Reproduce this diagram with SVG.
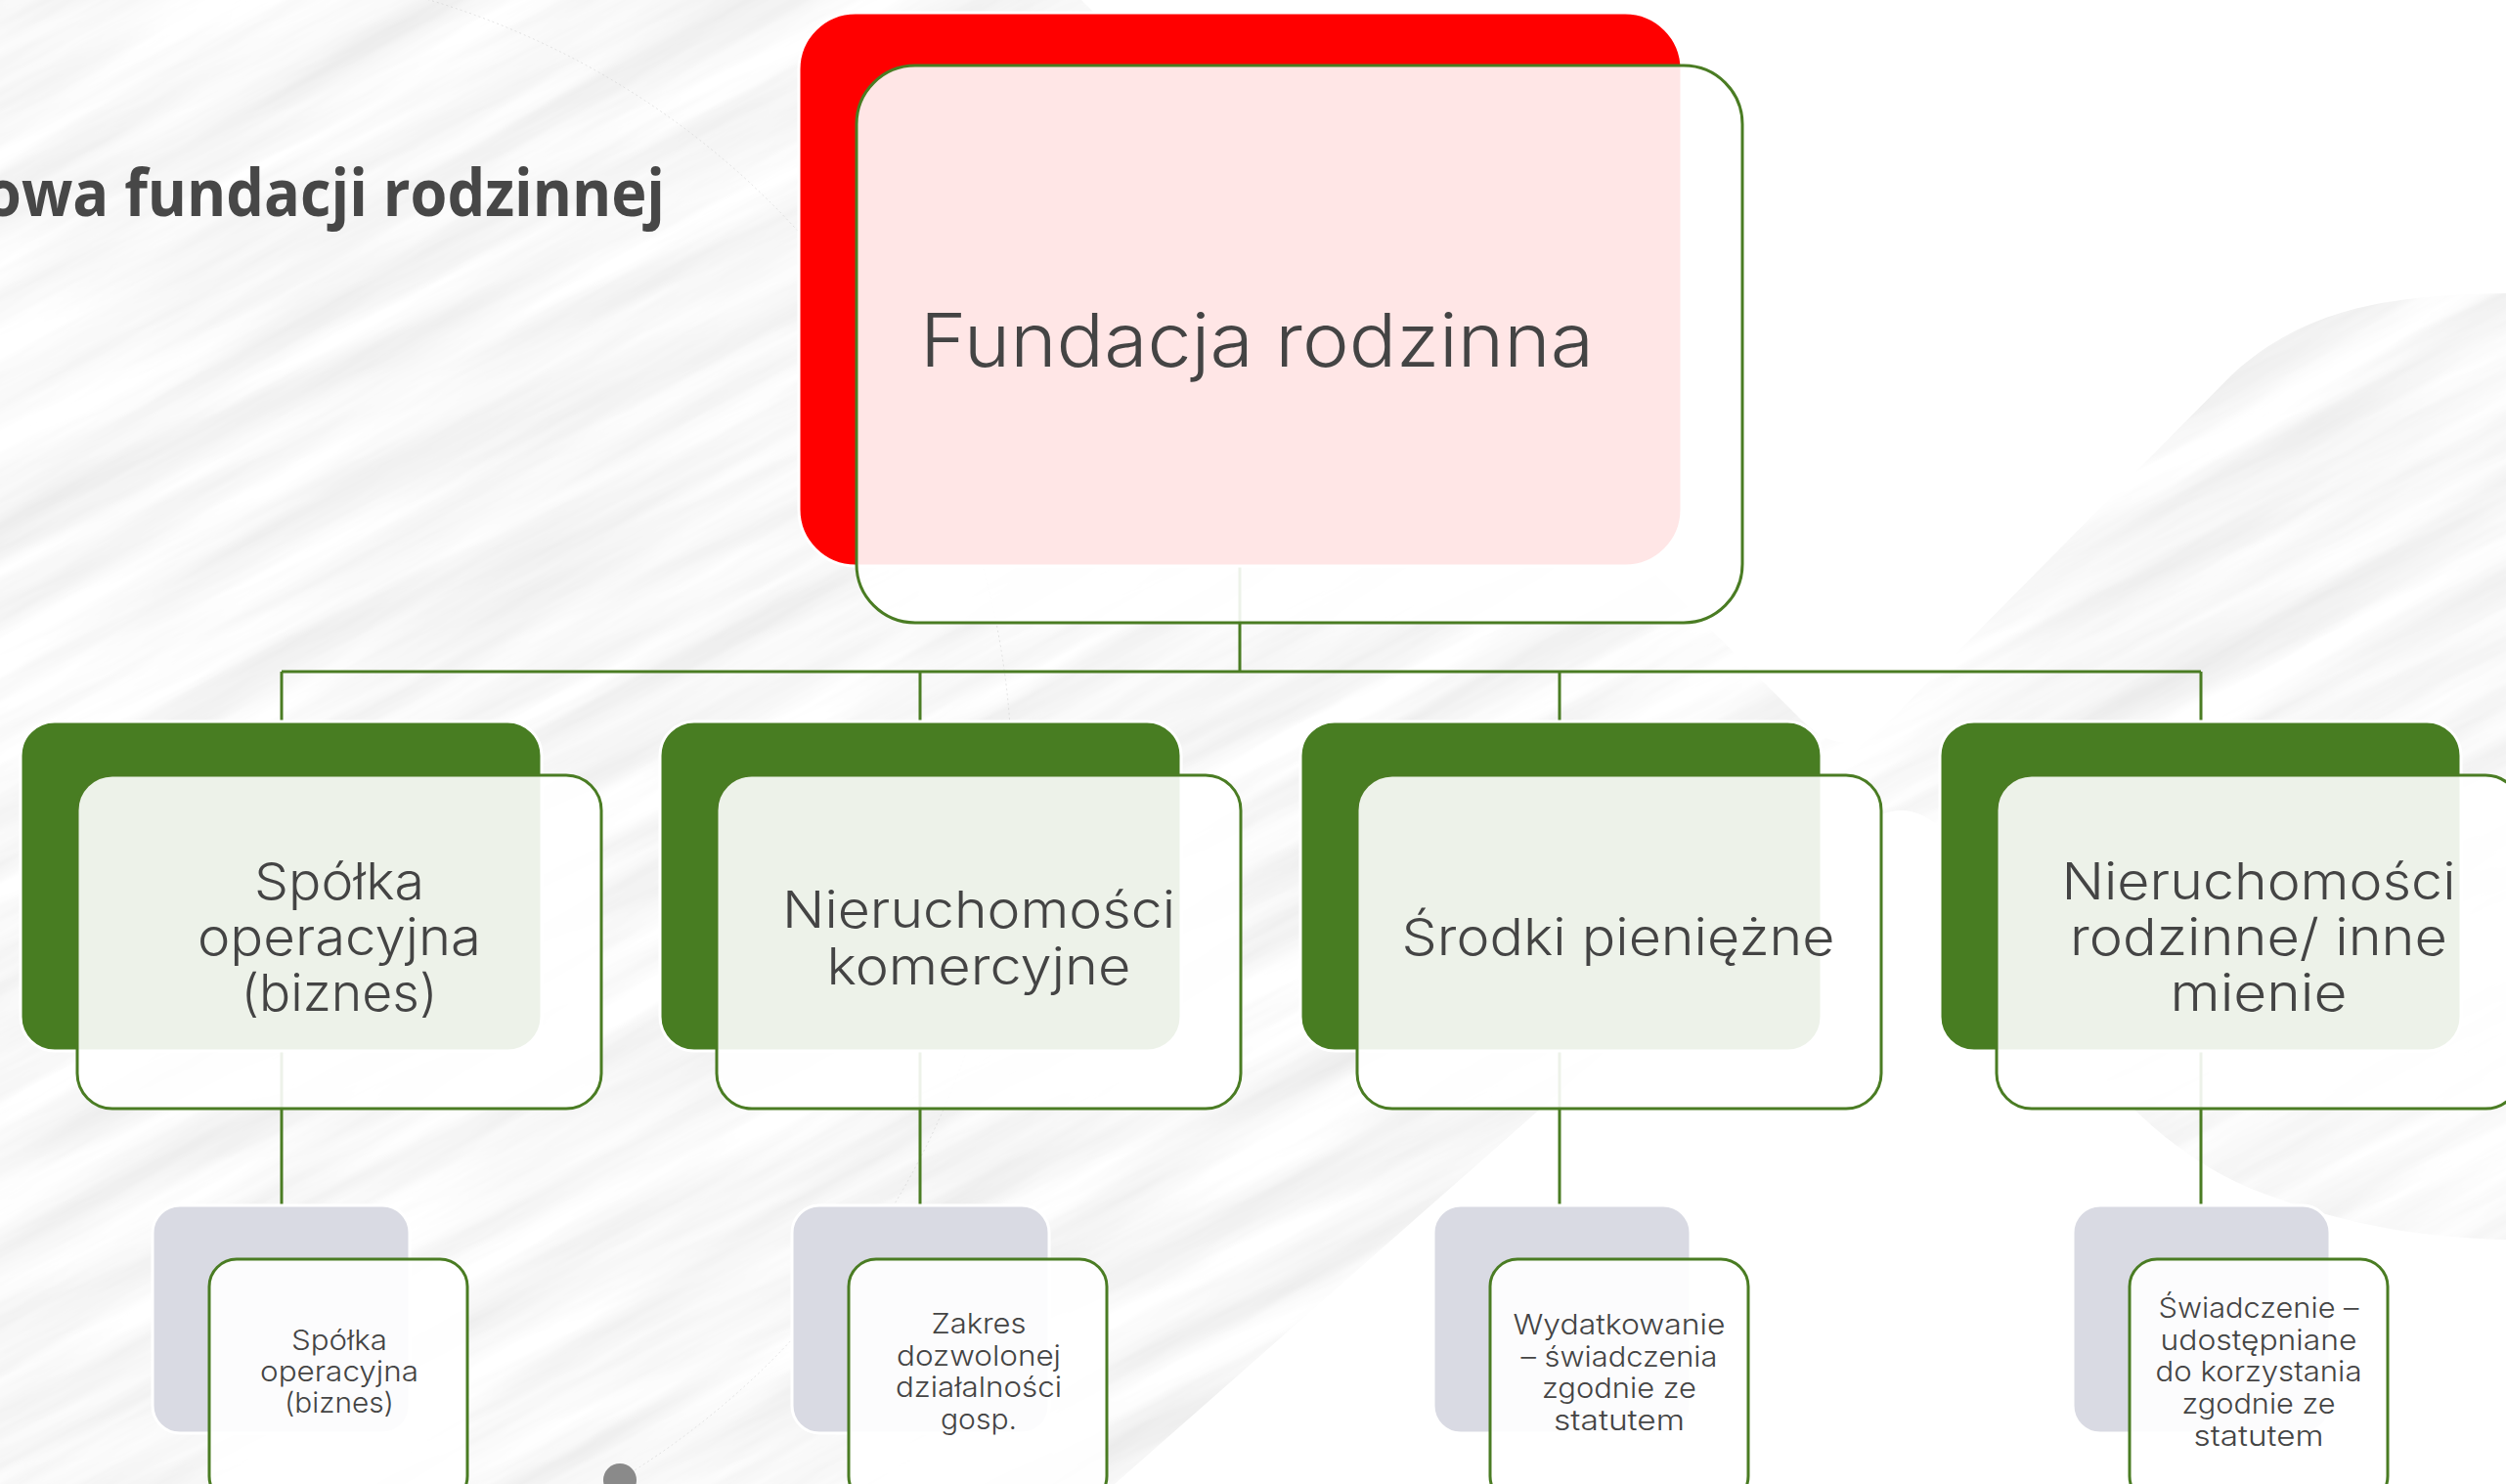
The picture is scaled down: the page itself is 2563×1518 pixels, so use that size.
<svg xmlns="http://www.w3.org/2000/svg" width="2563" height="1518" viewBox="0 0 2563 1518">
<defs>
<filter id="wood" x="-0.2" y="-0.2" width="1.4" height="1.4" filterUnits="objectBoundingBox">
<feTurbulence type="fractalNoise" baseFrequency="0.002 0.025" numOctaves="5" seed="7"/>
<feColorMatrix type="matrix" values="0.28 0 0 0 0.8  0.28 0 0 0 0.8  0.28 0 0 0 0.8  0 0 0 0 1"/>
</filter>
<style>
.lbl{font-family:Inter,"Open Sans","Liberation Sans",sans-serif;font-weight:300;fill:#444;text-anchor:middle}
.big{font-size:52px}
.sm{font-size:29px}
.conn{stroke:#4a7c23;stroke-width:3;fill:none}
.gback{fill:#487d22;stroke:#fff;stroke-width:3}
.gfront{fill:#fff;fill-opacity:.9;stroke:#4a7c23;stroke-width:3}
.sback{fill:#d9dae3;stroke:#fff;stroke-width:3}
.sfront{fill:#fff;fill-opacity:.9;stroke:#4a7c23;stroke-width:3}
</style>
</defs>
<g id="background">
<rect width="2563" height="1518" fill="#ececec"/>
<g transform="rotate(-28 1280 760)">
<rect x="-900" y="-900" width="4400" height="3300" filter="url(#wood)"/>
</g>
<path d="M1106,0 L1843,737 Q1888,782 1933,737 L2282,384 C2360,312 2450,302 2563,300 L2563,0 Z" fill="#fff"/>
<path d="M1140,1518 L1900,848 Q1948,808 1990,852 C2070,990 2150,1150 2300,1215 C2400,1255 2480,1266 2563,1268 L2563,1518 Z" fill="#fff"/>
<circle cx="200" cy="800" r="835" fill="none" stroke="#c4c4c4" stroke-width="1" stroke-dasharray="2 3" opacity="0.45"/>
<circle cx="634" cy="1514" r="17" fill="#8a8a8a"/>
<text x="-16" y="221" font-family="'Open Sans','Liberation Sans',sans-serif" font-weight="700" font-size="66" fill="#474747" textLength="696" lengthAdjust="spacingAndGlyphs">owa fundacji rodzinnej</text>
</g>
<g id="connectors">
<path class="conn" d="M1268,579 V687 M288,687 H2251 M288,687 V738 M941,687 V738 M1595,687 V738 M2251,687 V738 M288,1075 V1233 M941,1075 V1233 M1595,1075 V1233 M2251,1075 V1233"/>
</g>
<g id="node-fundacja">
<rect x="817" y="13" width="903" height="566" rx="58" fill="#ff0000" stroke="#fff" stroke-width="3"/>
<rect x="876" y="67" width="906" height="570" rx="60" class="gfront"/>
<text class="lbl" x="1285.5" y="375" font-size="76" textLength="689" lengthAdjust="spacingAndGlyphs">Fundacja rodzinna</text>
</g>
<g id="node-spolka">
<rect class="gback" x="21" y="738" width="533" height="337" rx="35"/>
<rect class="gfront" x="79" y="793" width="536" height="341" rx="36"/>
<text class="lbl big"><tspan x="347" y="920" textLength="174" lengthAdjust="spacingAndGlyphs">Spółka</tspan><tspan x="347" y="977" textLength="290" lengthAdjust="spacingAndGlyphs">operacyjna</tspan><tspan x="347" y="1034" textLength="201" lengthAdjust="spacingAndGlyphs">(biznes)</tspan></text>
</g>
<g id="node-nieruchomosci-kom">
<rect class="gback" x="675" y="738" width="533" height="337" rx="35"/>
<rect class="gfront" x="733" y="793" width="536" height="341" rx="36"/>
<text class="lbl big"><tspan x="1001" y="949" textLength="402" lengthAdjust="spacingAndGlyphs">Nieruchomości</tspan><tspan x="1001" y="1007" textLength="311" lengthAdjust="spacingAndGlyphs">komercyjne</tspan></text>
</g>
<g id="node-srodki">
<rect class="gback" x="1330" y="738" width="533" height="337" rx="35"/>
<rect class="gfront" x="1388" y="793" width="536" height="341" rx="36"/>
<text class="lbl big"><tspan x="1655" y="977" textLength="443" lengthAdjust="spacingAndGlyphs">Środki pieniężne</tspan></text>
</g>
<g id="node-nieruchomosci-rodz">
<rect class="gback" x="1984" y="738" width="533" height="337" rx="35"/>
<rect class="gfront" x="2042" y="793" width="536" height="341" rx="36"/>
<text class="lbl big"><tspan x="2310" y="920" textLength="403" lengthAdjust="spacingAndGlyphs">Nieruchomości</tspan><tspan x="2310" y="977" textLength="386" lengthAdjust="spacingAndGlyphs">rodzinne/ inne</tspan><tspan x="2310" y="1034" textLength="181" lengthAdjust="spacingAndGlyphs">mienie</tspan></text>
</g>
<g id="node-spolka-sub">
<rect class="sback" x="156" y="1233" width="263" height="233" rx="28"/>
<rect class="sfront" x="214" y="1288" width="264" height="250" rx="28"/>
<text class="lbl sm"><tspan x="347" y="1381" textLength="98" lengthAdjust="spacingAndGlyphs">Spółka</tspan><tspan x="347" y="1413" textLength="162" lengthAdjust="spacingAndGlyphs">operacyjna</tspan><tspan x="347" y="1445" textLength="112" lengthAdjust="spacingAndGlyphs">(biznes)</tspan></text>
</g>
<g id="node-zakres">
<rect class="sback" x="810" y="1233" width="263" height="233" rx="28"/>
<rect class="sfront" x="868" y="1288" width="264" height="250" rx="28"/>
<text class="lbl sm"><tspan x="1001" y="1364" textLength="97" lengthAdjust="spacingAndGlyphs">Zakres</tspan><tspan x="1001" y="1397" textLength="168" lengthAdjust="spacingAndGlyphs">dozwolonej</tspan><tspan x="1001" y="1429" textLength="170" lengthAdjust="spacingAndGlyphs">działalności</tspan><tspan x="1001" y="1462" textLength="78" lengthAdjust="spacingAndGlyphs">gosp.</tspan></text>
</g>
<g id="node-wydatkowanie">
<rect class="sback" x="1466" y="1233" width="263" height="233" rx="28"/>
<rect class="sfront" x="1524" y="1288" width="264" height="250" rx="28"/>
<text class="lbl sm"><tspan x="1656" y="1365" textLength="217" lengthAdjust="spacingAndGlyphs">Wydatkowanie</tspan><tspan x="1656" y="1398" textLength="201" lengthAdjust="spacingAndGlyphs">– świadczenia</tspan><tspan x="1656" y="1430" textLength="158" lengthAdjust="spacingAndGlyphs">zgodnie ze</tspan><tspan x="1656" y="1463" textLength="134" lengthAdjust="spacingAndGlyphs">statutem</tspan></text>
</g>
<g id="node-swiadczenie">
<rect class="sback" x="2120" y="1233" width="263" height="233" rx="28"/>
<rect class="sfront" x="2178" y="1288" width="264" height="250" rx="28"/>
<text class="lbl sm"><tspan x="2310" y="1348" textLength="205" lengthAdjust="spacingAndGlyphs">Świadczenie –</tspan><tspan x="2310" y="1381" textLength="201" lengthAdjust="spacingAndGlyphs">udostępniane</tspan><tspan x="2310" y="1413" textLength="211" lengthAdjust="spacingAndGlyphs">do korzystania</tspan><tspan x="2310" y="1446" textLength="157" lengthAdjust="spacingAndGlyphs">zgodnie ze</tspan><tspan x="2310" y="1479" textLength="133" lengthAdjust="spacingAndGlyphs">statutem</tspan></text>
</g>
</svg>
